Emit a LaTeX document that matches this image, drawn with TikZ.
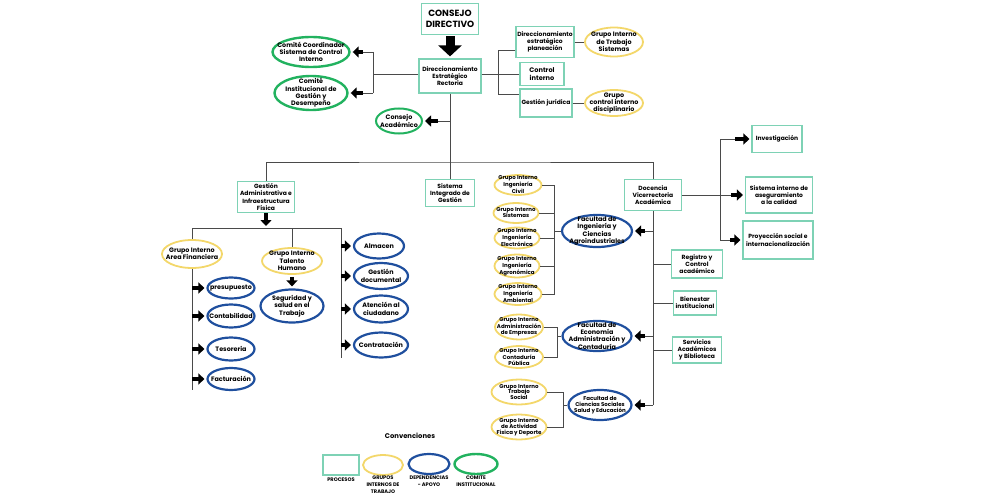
\documentclass[tikz,border=0pt]{standalone}
\usepackage{fontspec}
\setmainfont{Poppins}
\usetikzlibrary{positioning,arrows.meta,shapes.geometric}
\definecolor{Proc}{HTML}{7ED2B5}
\definecolor{Gold}{HTML}{F3D76A}
\definecolor{Navy}{HTML}{1F4F9E}
\definecolor{Leaf}{HTML}{22B25F}
\definecolor{Wire}{HTML}{4A4A4A}

\begin{document}
\begin{tikzpicture}[
  x=1pt, y=-1pt, font=\fontsize{6}{7.2}\selectfont\bfseries,
  pr/.style={draw=Proc, line width=1.2pt, align=center, inner sep=1pt, fill=white},
  bigf/.style={font=\fontsize{9}{11}\selectfont\bfseries},
  midf/.style={font=\fontsize{6.6}{8}\selectfont\bfseries},
  el/.style={ellipse, line width=1.8pt, inner sep=0pt, fill=white},
  gi/.style={el, draw=Gold},
  dp/.style={el, draw=Navy, line width=2.2pt},
  comi/.style={el, draw=Leaf, line width=2.4pt},
  tx/.style={align=center, inner sep=0pt, font=\fontsize{6.4}{7.3}\selectfont\bfseries},
  sm/.style={font=\fontsize{5.5}{5.9}\selectfont\bfseries},
  lg/.style={font=\fontsize{5.1}{7}\selectfont\bfseries, align=center, inner sep=0pt},
  ln/.style={draw=Wire, line width=0.9pt},
  blk/.style={draw=black, line width=4.5pt, -{Triangle[length=6pt,width=11pt]}, shorten >=2pt}]

\useasboundingbox (0,0) rectangle (1000,500);

% ---------- direction ----------
\node[pr, bigf, minimum width=57pt, minimum height=31pt] (cdir) at (450,19) {CONSEJO\\DIRECTIVO};
\node[pr, minimum width=62pt, minimum height=34pt] (rect) at (450,76) {Direccionamiento\\Estratégico\\Rectoria};
\draw[blk, line width=9pt, -{Triangle[length=11pt,width=23pt]}, shorten <=1pt] (cdir.south) -- (rect.north);

\node[comi, minimum width=77pt, minimum height=30pt,
  label={[tx]center:Comité Coordinador\\Sistema de Control\\Interno}] (ccsci) at (311,52) {};
\node[comi, minimum width=73pt, minimum height=34pt,
  label={[tx]center:Comité\\Institucional de\\Gestión y\\Desempeño}] (cigd) at (311,93) {};
\node[comi, line width=2pt, minimum width=46pt, minimum height=25pt,
  label={[tx]center:Consejo\\Académico}] (cacad) at (399,121) {};

\coordinate (lsp) at (373,74);
\draw[ln] (rect.west |- lsp) -- (lsp);
\draw[ln] (lsp |- ccsci) -- (lsp |- cigd);
\draw[ln] (lsp |- ccsci) -- ++(-10,0) coordinate (accsci);
\draw[blk] (accsci) -- (ccsci);
\draw[ln] (lsp |- cigd) -- ++(-10,0) coordinate (acigd);
\draw[blk] (acigd) -- (cigd);
\draw[ln] (rect.south |- cacad) -- ++(-12,0) coordinate (acacad);
\draw[blk] (acacad) -- (cacad);

% right of rectoria
\node[pr, minimum width=58pt, minimum height=31pt] (dep) at (545,42) {Direccionamiento\\estratégico\\planeación};
\node[pr, midf, minimum width=44pt, minimum height=23pt] (cint) at (542,74) {Control\\interno};
\node[pr, minimum width=52pt, minimum height=28pt] (gjur) at (546,103) {Gestión jurídica};
\node[gi, minimum width=58pt, minimum height=29pt,
  label={[tx]center:Grupo Interno\\de Trabajo\\Sistemas}] (gits) at (614,42) {};
\node[gi, minimum width=58pt, minimum height=26pt,
  label={[tx]center:Grupo\\control interno\\disciplinario}] (gcid) at (614,103) {};

\coordinate (rs1) at (498,50);
\coordinate (rs2) at (498,94);
\draw[ln] (rect.east |- cint) -- (cint);
\draw[ln] (rs1 -| dep.west) -| (rs2) -- (rs2 -| gjur.west);
\draw[ln] (dep) -- (gits);
\draw[ln] (gjur) -- (gcid);

% ---------- second level ----------
\node[pr, minimum width=49pt, minimum height=27pt] (sig) at (450,193) {Sistema\\Integrado de\\Gestión};
\node[pr, minimum width=57pt, minimum height=31pt] (gadm) at (266,197) {Gestión\\Administrativa e\\Infraestructura\\Física};
\node[pr, minimum width=57pt, minimum height=31pt] (doc) at (653,195) {Docencia\\Vicerrectoria\\Académica};
\coordinate (bus) at (450,162);
\draw[ln] (rect.south) -- (sig.north);
\draw[ln] (gadm.north) |- (bus) -| (doc.north);

% ---------- administrativa ----------
\coordinate (gb) at (266,228);
\coordinate (fsp) at (192,228);
\coordinate (fend) at (192,390);
\coordinate (asp) at (341,228);
\coordinate (aend) at (341,358);
\draw[blk] (gadm.south) -- (gb);
\draw[ln] (fsp) -- (asp) -- (aend);

\node[gi, minimum width=60pt, minimum height=28pt,
  label={[tx]center:Grupo Interno\\Area Financiera}] (gfin) at (192,254) {};
\node[gi, minimum width=60pt, minimum height=26pt,
  label={[tx]center:Grupo Interno\\Talento\\Humano}] (gtal) at (292,261) {};
\node[dp, minimum width=63pt, minimum height=33pt,
  label={[tx]center:Seguridad y\\salud en el\\Trabajo}] (sst) at (292,306) {};
\draw[ln] (fsp) -- (gfin.north);
\draw[ln] (gfin.south) -- (fend);
\draw[ln] (gtal.north |- gb) -- (gtal.north);
\draw[blk, shorten <=2pt] (gtal.south) -- (sst.north);

\node[dp, minimum width=47pt, minimum height=21pt, label={[tx]center:presupuesto}] (pres) at (231,288) {};
\node[dp, minimum width=47pt, minimum height=23pt, label={[tx]center:Contabilidad}] (cont) at (231,316) {};
\node[dp, minimum width=47pt, minimum height=23pt, label={[tx]center:Tesoreria}] (teso) at (231,349) {};
\node[dp, minimum width=47pt, minimum height=22pt, label={[tx]center:Facturación}] (fact) at (231,379) {};
\foreach \n in {pres,cont,teso,fact}
  \draw[blk] (fsp |- \n) -- (\n);

\node[dp, minimum width=50pt, minimum height=25pt, label={[tx]center:Almacen}] (alm) at (379,246) {};
\node[dp, minimum width=54pt, minimum height=26pt, label={[tx]center:Gestión\\documental}] (gdoc) at (381,276) {};
\node[dp, minimum width=54pt, minimum height=27pt, label={[tx]center:Atención al\\ciudadano}] (aten) at (381,309) {};
\node[dp, minimum width=54pt, minimum height=25pt, label={[tx]center:Contratación}] (contr) at (381,345) {};
\foreach \n in {alm,gdoc,aten,contr}
  \draw[blk] (asp |- \n) -- (\n);

% ---------- docencia ----------
\coordinate (dend) at (653,405);
\draw[ln] (doc.south) -- (dend);

\node[dp, minimum width=70pt, minimum height=32pt,
  label={[tx]center:Facultad de\\Ingeniería y\\Ciencias\\Agroindustriales}] (fing) at (597,231) {};
\node[dp, minimum width=69pt, minimum height=30pt,
  label={[tx]center:Facultad de\\Economía\\Administración y\\Contaduría}] (feco) at (597,336) {};
\node[dp, minimum width=63pt, minimum height=30pt,
  label={[tx,sm]center:Facultad de\\Ciencias Sociales\\Salud y Educación}] (fcso) at (600,405) {};
\foreach \n in {fing,feco,fcso} {
  \draw[ln] (dend |- \n) -- ++(-8,0) coordinate (a\n);
  \draw[blk] (a\n) -- (\n);
}

\node[pr, minimum width=51pt, minimum height=28pt] (rca) at (697,264) {Registro y\\Control\\académico};
\node[pr, minimum width=43pt, minimum height=24pt] (bien) at (695,303) {Bienestar\\institucional};
\node[pr, minimum width=49pt, minimum height=26pt] (serv) at (697,350) {Servicios\\Académicos\\y Biblioteca};
\foreach \n in {rca,bien,serv}
  \draw[ln] (dend |- \n) -- (\n);

\node[pr, minimum width=50pt, minimum height=27pt] (inv) at (777,139) {Investigación};
\node[pr, minimum width=67pt, minimum height=36pt] (sia) at (779,195) {Sistema interno de\\aseguramiento\\a la calidad};
\node[pr, minimum width=70pt, minimum height=38pt] (pso) at (778,240) {Proyección social e\\internacionalización};
\coordinate (isp) at (720,139);
\coordinate (isq) at (720,240);
\draw[ln] (isp) -- (isq);
\draw[ln] (isp) -- ++(15,0) coordinate (ainv);
\draw[blk] (ainv) -- (inv);
\draw[ln] (doc.east |- sia) -- ++(49,0) coordinate (asia);
\draw[blk] (asia) -- (sia);
\draw[ln] (isq) -- ++(10,0) coordinate (apso);
\draw[blk] (apso) -- (pso);

% grupos internos ingenieria
\node[gi, minimum width=47pt, minimum height=20pt,
  label={[tx,sm]center:Grupo Interno\\Ingeniería\\Civil}] (civ) at (518,185) {};
\node[gi, minimum width=45pt, minimum height=20pt,
  label={[tx,sm]center:Grupo Interno\\Sistemas}] (gsis) at (516,213) {};
\node[gi, minimum width=45pt, minimum height=21pt,
  label={[tx,sm]center:Grupo Interno\\Ingeniería\\Electrónica}] (ele) at (517,238) {};
\node[gi, minimum width=45pt, minimum height=23pt,
  label={[tx,sm]center:Grupo Interno\\Ingeniería\\Agronómica}] (agr) at (517,266) {};
\node[gi, minimum width=47pt, minimum height=22pt,
  label={[tx,sm]center:Grupo Interno\\Ingeniería\\Ambiental}] (amb) at (518,294) {};
\coordinate (ibr) at (554,231);
\draw[ln] (civ) -| (ibr |- amb) -- (amb);
\foreach \n in {gsis,ele,agr}
  \draw[ln] (\n) -- (\n -| ibr);
\draw[ln] (ibr |- fing) -- (fing);

% grupos internos economia
\node[gi, minimum width=48pt, minimum height=25pt,
  label={[tx,sm]center:Grupo Interno\\Administración\\de Empresas}] (gade) at (519,327) {};
\node[gi, minimum width=48pt, minimum height=22pt,
  label={[tx,sm]center:Grupo Interno\\Contaduría\\Pública}] (gcpu) at (519,357) {};
\coordinate (ebr) at (557,336);
\draw[ln] (gade) -| (ebr |- gcpu) -- (gcpu);
\draw[ln] (ebr |- feco) -- (feco);

% grupos internos ciencias sociales
\node[gi, minimum width=55pt, minimum height=25pt,
  label={[tx,sm]center:Grupo Interno\\Trabajo\\Social}] (gts) at (519,392) {};
\node[gi, minimum width=55pt, minimum height=25pt,
  label={[tx,sm]center:Grupo Interno\\de Actividad\\Física y Deporte}] (gafd) at (519,427) {};
\coordinate (cbr) at (563,405);
\draw[ln] (gts) -| (cbr |- gafd) -- (gafd);
\draw[ln] (cbr |- fcso) -- (fcso);

% ---------- convenciones ----------
\node[font=\fontsize{6.8}{8}\selectfont\bfseries] (conv) at (410,436) {Convenciones};
\node[pr, minimum width=36pt, minimum height=20pt] (kpr) at (341,465) {};
\node[gi, minimum width=40pt, minimum height=20pt] (kgi) at (383,465) {};
\node[dp, minimum width=41pt, minimum height=20pt] (kdp) at (429,464) {};
\node[comi, minimum width=43pt, minimum height=20pt] (kcm) at (476,464) {};
\node[lg, anchor=north] (lpr) at (341,478) {PROCESOS};
\node[lg, anchor=north] (lgi) at (383,476) {GRUPOS\\INTERNOS DE\\TRABAJO};
\node[lg, anchor=north] (ldp) at (429,476) {DEPENDENCIAS\\- APOYO};
\node[lg, anchor=north] (lcm) at (476,476) {COMITE\\INSTITUCIONAL};
\end{tikzpicture}
\end{document}
